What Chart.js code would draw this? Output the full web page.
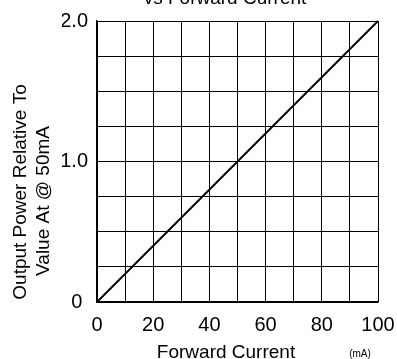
<!DOCTYPE html>
<html>
<head>
<meta charset="utf-8">
<script src="https://cdn.jsdelivr.net/npm/chart.js@4/dist/chart.umd.min.js"></script>
<style>
    html, body { margin: 0; padding: 0; background: #fff; overflow: hidden; }
    #wrap { position: relative; width: 397px; height: 359px; }
</style>
</head>
<body>
<div id="wrap"><canvas id="chart" width="397" height="359"></canvas></div>
<script>
// Data
const currentMa = [0, 100];
const relativePower = [0, 2.0];
const xTickLabels = ['0', '20', '40', '60', '80', '100'];
const yTickLabels = { 0: '0 ', 1: '1.0', 2: '2.0' };

const FONT = "'Liberation Sans', Arial, Helvetica, sans-serif";

// Texts that sit off-centre in the original get drawn by hand
const sideText = {
    id: 'sideText',
    afterDraw(chart) {
        const ctx = chart.ctx;
        ctx.save();
        ctx.fillStyle = '#000';
        ctx.textAlign = 'center';
        ctx.textBaseline = 'alphabetic';

        ctx.font = '19px ' + FONT;
        ctx.fillText('vs Forward Current', 225, 3.5);
        ctx.fillText('Forward Current', 226, 357.5);

        ctx.font = '10px ' + FONT;
        ctx.fillText('(mA)', 360, 357);

        // rotated y title, two lines
        ctx.font = '19px ' + FONT;
        ctx.translate(25.6, 192);
        ctx.rotate(-Math.PI / 2);
        ctx.fillText('Output Power Relative To', 0, 0);
        ctx.restore();

        ctx.save();
        ctx.fillStyle = '#000';
        ctx.textAlign = 'center';
        ctx.font = '19px ' + FONT;
        ctx.translate(48.6, 201);
        ctx.rotate(-Math.PI / 2);
        ctx.fillText('Value At @ 50mA', 0, 0);
        ctx.restore();
    }
};

const points = currentMa.map((x, i) => ({ x: x, y: relativePower[i] }));

new Chart(document.getElementById('chart'), {
    type: 'line',
    data: {
        datasets: [{
            data: points,
            borderColor: '#000',
            borderWidth: 2,
            pointRadius: 0,
            tension: 0,
            clip: false
        }]
    },
    options: {
        responsive: false,
        animation: false,
        devicePixelRatio: 1,
        layout: { padding: { top: 21, left: 62, right: 19, bottom: 25 } },
        plugins: {
            legend: { display: false },
            tooltip: { enabled: false }
        },
        scales: {
            x: {
                type: 'linear',
                min: 0,
                max: 100,
                grid: { color: '#000', lineWidth: 1, drawTicks: false },
                border: { color: '#000', width: 1.5 },
                ticks: {
                    stepSize: 10,
                    padding: 11,
                    color: '#000',
                    font: { family: FONT, size: 20 },
                    maxRotation: 0,
                    autoSkip: false,
                    callback: v => xTickLabels.includes(String(v)) ? String(v) : ''
                },
                afterFit: s => {
                    s.height = 32;
                    s.paddingLeft = 0;
                    s.paddingRight = 0;
                }
            },
            y: {
                type: 'linear',
                min: 0,
                max: 2,
                grid: { color: '#000', lineWidth: 1, drawTicks: false },
                border: { color: '#000', width: 1.5 },
                ticks: {
                    stepSize: 0.25,
                    padding: 9,
                    color: '#000',
                    font: { family: FONT, size: 20 },
                    autoSkip: false,
                    callback: v => yTickLabels[v] !== undefined ? yTickLabels[v] : ''
                },
                afterFit: s => {
                    s.width = 35;
                    s.paddingTop = 0;
                    s.paddingBottom = 0;
                }
            }
        }
    },
    plugins: [sideText]
});
</script>
</body>
</html>
